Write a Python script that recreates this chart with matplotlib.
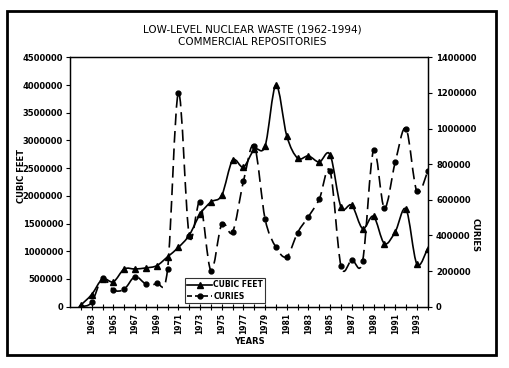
import matplotlib
matplotlib.use('Agg')
import matplotlib.pyplot as plt
from matplotlib.path import Path
from matplotlib.patches import PathPatch, Rectangle
from matplotlib.lines import Line2D

# data
years = list(range(1962, 1995))
cubic_feet = [30000, 220000, 500000, 450000, 680000, 680000, 700000, 740000,
              900000, 1070000, 1290000, 1670000, 1890000, 2010000, 2640000,
              2520000, 2840000, 2900000, 4000000, 3080000, 2680000, 2720000,
              2610000, 2740000, 1800000, 1830000, 1410000, 1630000, 1140000,
              1350000, 1760000, 770000, 1050000]
curies = [0, 24000, 160000, 94000, 98000, 169000, 128000, 132000, 210000,
          1200000, 398000, 585000, 203000, 464000, 419000, 703000, 904000,
          492000, 334000, 281000, 416000, 506000, 604000, 760000, 229000,
          263000, 259000, 878000, 554000, 810000, 1000000, 647000, 760000]
year_labels = [str(y) if y % 2 == 1 else '' for y in years]
left_ticks = list(range(0, 4500001, 500000))
right_ticks = list(range(0, 1400001, 200000))

W, H = 509, 368
TXT = dict(family='DejaVu Sans', fontweight='bold')
DASH = (0, (7, 3.5))


def smooth_path(xs, ys):
    # excel-style smoothed line: cubic bezier between neighbouring points
    verts = [(xs[0], ys[0])]
    codes = [Path.MOVETO]
    n = len(xs)
    for i in range(n - 1):
        x0, y0 = xs[max(i - 1, 0)], ys[max(i - 1, 0)]
        x1, y1 = xs[i], ys[i]
        x2, y2 = xs[i + 1], ys[i + 1]
        x3, y3 = xs[min(i + 2, n - 1)], ys[min(i + 2, n - 1)]
        verts += [(x1 + (x2 - x0) / 6, y1 + (y2 - y0) / 6),
                  (x2 - (x3 - x1) / 6, y2 - (y3 - y1) / 6),
                  (x2, y2)]
        codes += [Path.CURVE4] * 3
    return Path(verts, codes)


fig = plt.figure(figsize=(W / 100, H / 100), dpi=100)
fig.patch.set_facecolor('white')

x0, x1, y_top, y_bot = 70, 427.7, 57.3, 306.7
ax = fig.add_axes([x0 / W, 1 - y_bot / H, (x1 - x0) / W, (y_bot - y_top) / H])
ax2 = ax.twinx()

ax.add_patch(PathPatch(smooth_path(years, cubic_feet), fill=False,
                       edgecolor='black', lw=1.2, zorder=3))
ax.plot(years, cubic_feet, ls='none', marker='^', ms=4, color='black', zorder=4)

ax2.add_patch(PathPatch(smooth_path(years, curies), fill=False,
                        edgecolor='black', lw=1.2, linestyle=DASH, zorder=3))
ax2.plot(years, curies, ls='none', marker='o', ms=3.5, color='black', zorder=4)

ax.set_xlim(1961, 1994)
ax.set_ylim(0, 4500000)
ax2.set_ylim(0, 1400000)

ax.set_xticks(years)
ax.set_xticklabels(year_labels, rotation=90, fontsize=5.5, **TXT)
ax.tick_params(axis='x', direction='inout', length=5, width=0.8, pad=2)
ax.set_yticks(left_ticks)
ax.set_yticklabels([str(v) for v in left_ticks], fontsize=6, **TXT)
ax.tick_params(axis='y', direction='out', length=3, width=0.8, pad=2)
ax2.set_yticks(right_ticks)
ax2.set_yticklabels([str(v) for v in right_ticks], fontsize=6, **TXT)
ax2.tick_params(axis='y', direction='out', length=3, width=0.8, pad=3)

for a in (ax, ax2):
    for s in a.spines.values():
        s.set_linewidth(0.9)

fig.text(22 / W, 1 - 176 / H, 'CUBIC FEET', rotation=90, ha='center', va='center',
         fontsize=6, **TXT)
fig.text(475 / W, 1 - 235 / H, 'CURIES', rotation=270, ha='center', va='center',
         fontsize=6, **TXT)
fig.text(249 / W, 1 - 341.5 / H, 'YEARS', ha='center', va='center', fontsize=6, **TXT)
fig.text(252 / W, 1 - 29 / H, 'LOW-LEVEL NUCLEAR WASTE (1962-1994)', ha='center',
         va='center', fontsize=7.5, family='DejaVu Sans')
fig.text(252 / W, 1 - 42 / H, 'COMMERCIAL REPOSITORIES', ha='center',
         va='center', fontsize=7.5, family='DejaVu Sans')

handles = [Line2D([], [], color='black', lw=1.2, marker='^', ms=4),
           Line2D([], [], color='black', lw=1.2, ls=(0, (3, 1.8)), marker='o', ms=3.5)]
leg = fig.legend(handles, ['CUBIC FEET', 'CURIES'], loc='upper left',
                 bbox_to_anchor=(185 / W, 1 - 278 / H), bbox_transform=fig.transFigure,
                 prop={'family': 'DejaVu Sans', 'weight': 'bold', 'size': 5.5},
                 frameon=True, fancybox=False, handlelength=3.2, handletextpad=0.2,
                 labelspacing=0.35, borderpad=0.3, borderaxespad=0)
leg.get_frame().set_edgecolor('black')
leg.get_frame().set_linewidth(0.8)

fig.patches.append(Rectangle((7.3 / W, 1 - 355 / H), (495.7 - 7.3) / W, (355 - 11) / H,
                             transform=fig.transFigure, fill=False,
                             edgecolor='black', lw=2))

fig.savefig('out.png', dpi=100)
